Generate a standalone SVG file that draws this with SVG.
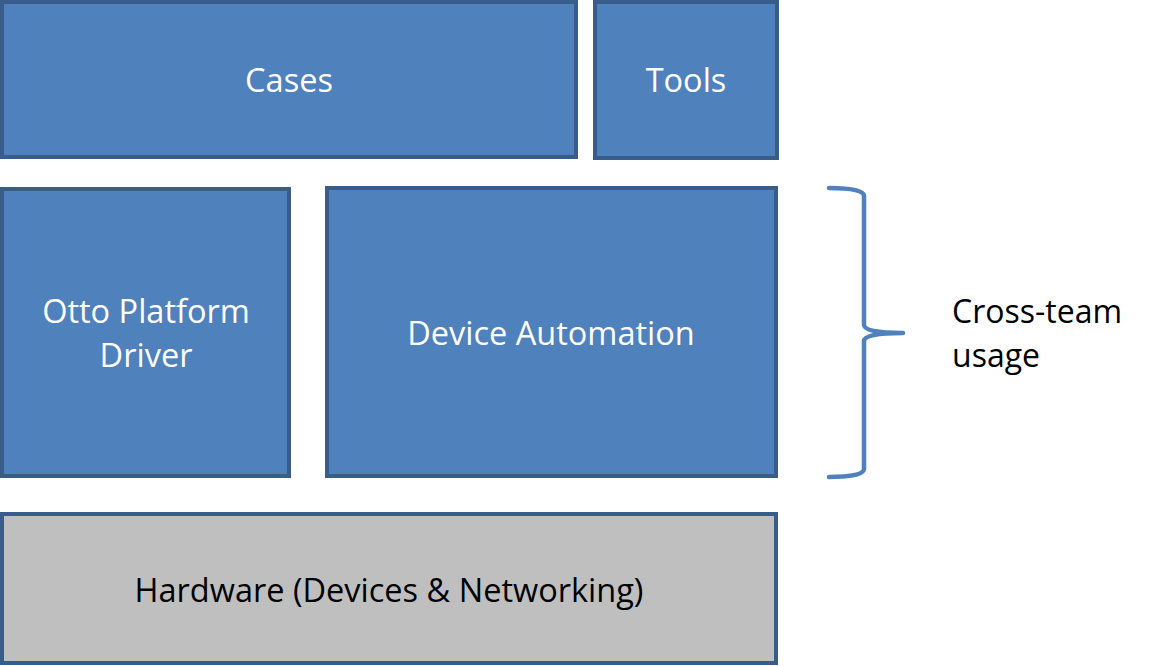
<svg xmlns="http://www.w3.org/2000/svg" width="1155" height="666" viewBox="0 0 1155 666">
<style>
.box{fill:#4F81BD;stroke:#385D8A;stroke-width:4}
.hw{fill:#BFBFBF;stroke:#385D8A;stroke-width:4}
.lbl{font-family:"Open Sans","Liberation Sans",sans-serif;font-size:32.5px;text-anchor:middle;fill:#FFFFFF}
.dark{fill:#000000}
.side{text-anchor:start;font-size:32px}
.brace{fill:none;stroke:#4F81BD;stroke-width:4.5;stroke-linecap:round;stroke-linejoin:round}
</style>
<rect width="1155" height="666" fill="#FFFFFF"/>
<g id="cases">
<rect class="box" x="2" y="2" width="574" height="155"/>
<text class="lbl" x="289" y="92">Cases</text>
</g>
<g id="tools">
<rect class="box" x="595" y="2" width="182" height="156"/>
<text class="lbl" x="686" y="92">Tools</text>
</g>
<g id="otto">
<rect class="box" x="2" y="189" width="287" height="287"/>
<text class="lbl" x="146" y="323">Otto Platform</text>
<text class="lbl" x="146" y="367">Driver</text>
</g>
<g id="device">
<rect class="box" x="327" y="188" width="449" height="288"/>
<text class="lbl" x="551" y="345">Device Automation</text>
</g>
<g id="hardware">
<rect class="hw" x="2" y="514" width="774" height="149"/>
<text class="lbl dark" x="389" y="602">Hardware (Devices &amp; Networking)</text>
</g>
<g id="connectors">
<path class="brace" d="M829,188 Q864,188 864,196 L864,325 Q864,333 903,333 Q864,333 864,341 L864,469 Q864,477 829,477"/>
</g>
<g id="crossteam">
<text class="lbl dark side" x="952" y="323">Cross-team</text>
<text class="lbl dark side" x="952" y="367">usage</text>
</g>
</svg>
